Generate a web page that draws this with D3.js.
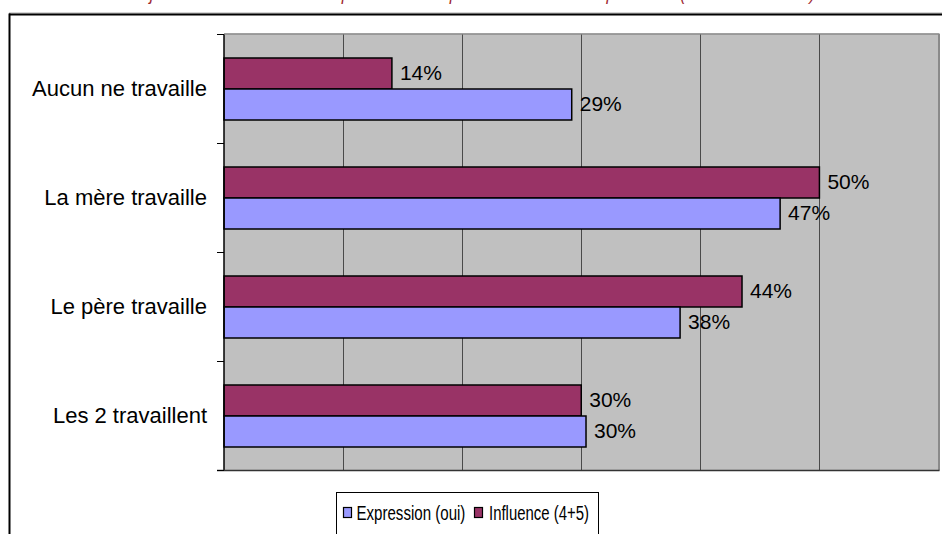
<!DOCTYPE html>
<html><head><meta charset="utf-8">
<script src="https://cdn.jsdelivr.net/npm/d3@7"></script>
<style>body{margin:0;background:#fff}svg{display:block}</style>
</head><body><svg width="942" height="534"></svg>
<script>
const categories = ["Aucun ne travaille", "La mère travaille", "Le père travaille", "Les 2 travaillent"];
const influence = [14.1, 50, 43.5, 30];
const expression = [29.2, 46.7, 38.3, 30.4];
const seriesNames = ["Expression (oui)", "Influence (4+5)"];
const seriesColors = ["#9999FF", "#993366"];
const xTicks = [0, 10, 20, 30, 40, 50, 60];
const titleText = "jeune dans le choix de sa profession : expression et influence parentale (selon la situation)";

const svg = d3.select("svg");
const font = "'Liberation Sans', Arial, sans-serif";

// outer frame
svg.append("line").attr("x1", 9).attr("x2", 942).attr("y1", 13).attr("y2", 13).attr("stroke", "#aaa").attr("stroke-width", 1);
svg.append("line").attr("x1", 9).attr("x2", 942).attr("y1", 14.5).attr("y2", 14.5).attr("stroke", "#000").attr("stroke-width", 2);
svg.append("line").attr("x1", 9.5).attr("x2", 9.5).attr("y1", 13.5).attr("y2", 534).attr("stroke", "#000").attr("stroke-width", 2);

// title (cut off at the top edge, as in the reference)
svg.append("text").attr("x", 150).attr("y", -0.5).attr("textLength", 665).attr("lengthAdjust", "spacingAndGlyphs")
  .attr("font-family", font).attr("font-style", "italic").attr("font-size", 18).attr("fill", "#A02830").text(titleText);

const x = d3.scaleLinear().domain([0, 60]).range([224, 938.5]);
const y = d3.scaleBand().domain(categories).range([34.5, 470.5]);
const sub = d3.scaleBand().domain(["influence", "expression"]).range([0, y.bandwidth()]).paddingInner(0).paddingOuter(0.758);

// plot area
svg.append("rect").attr("x", x(0)).attr("y", 34.5).attr("width", x(60) - x(0)).attr("height", 436).attr("fill", "#C0C0C0");
svg.append("line").attr("x1", x(0)).attr("x2", x(60) + 1).attr("y1", 34).attr("y2", 34).attr("stroke", "#808080").attr("stroke-width", 1.5);
svg.append("line").attr("x1", x(60) + 0.5).attr("x2", x(60) + 0.5).attr("y1", 34).attr("y2", 470.5).attr("stroke", "#8a8a8a").attr("stroke-width", 2);

// gridlines
svg.append("g").selectAll("line").data(xTicks.filter(d => d > 0 && d < 60)).join("line")
  .attr("x1", d => Math.round(x(d)) + 0.5).attr("x2", d => Math.round(x(d)) + 0.5)
  .attr("y1", 34.5).attr("y2", 470.5).attr("stroke", "#4a4a4a").attr("stroke-width", 1);

// bars
const rows = categories.map((c, i) => ({c, influence: influence[i], expression: expression[i]}));
const g = svg.append("g");
rows.forEach(r => {
  [["influence", seriesColors[1]], ["expression", seriesColors[0]]].forEach(([k, col]) => {
    const y0 = y(r.c) + sub(k);
    g.append("rect").attr("x", x(0)).attr("y", y0).attr("width", x(r[k]) - x(0)).attr("height", sub.bandwidth())
      .attr("fill", col).attr("stroke", "#000").attr("stroke-width", 1.5);
    g.append("text").attr("x", x(r[k]) + 8).attr("y", y0 + sub.bandwidth() / 2).attr("dy", "0.33em")
      .attr("font-family", font).attr("font-size", 21).attr("fill", "#000")
      .text(Math.round(r[k]) + "%");
  });
});

// axes
svg.append("line").attr("x1", 224).attr("x2", 224).attr("y1", 34.5).attr("y2", 470.5).attr("stroke", "#000").attr("stroke-width", 1.5);
svg.append("line").attr("x1", 217).attr("x2", x(60) + 1).attr("y1", 470.5).attr("y2", 470.5).attr("stroke", "#333").attr("stroke-width", 1.5);
const edges = categories.map(c => y(c)).concat([y.range()[1]]);
svg.append("g").selectAll("line").data(edges).join("line")
  .attr("x1", 217).attr("x2", 224).attr("y1", d => d).attr("y2", d => d).attr("stroke", "#000").attr("stroke-width", 1);
svg.append("g").selectAll("text").data(categories).join("text")
  .attr("x", 207).attr("y", d => y(d) + y.bandwidth() / 2).attr("dy", "0.33em").attr("text-anchor", "end")
  .attr("font-family", font).attr("font-size", 22).attr("fill", "#000").text(d => d);

// legend
const lg = svg.append("g");
lg.append("rect").attr("x", 336.5).attr("y", 492.5).attr("width", 262).attr("height", 50).attr("fill", "#fff").attr("stroke", "#000").attr("stroke-width", 1);
const legendItems = [
  {name: seriesNames[0], color: seriesColors[0], mx: 343, tx: 356.5, w: 109},
  {name: seriesNames[1], color: seriesColors[1], mx: 474, tx: 489, w: 100}
];
legendItems.forEach(it => {
  lg.append("rect").attr("x", it.mx + 0.5).attr("y", 507.5).attr("width", 8).attr("height", 10).attr("fill", it.color).attr("stroke", "#000").attr("stroke-width", 1.2);
  const tg = lg.append("g").attr("transform", `translate(${it.tx},520)`);
  const t = tg.append("text").attr("x", 0).attr("y", 0)
    .attr("font-family", font).attr("font-size", 21).attr("fill", "#000").text(it.name);
  const natural = t.node().getComputedTextLength();
  tg.attr("transform", `translate(${it.tx},520) scale(${it.w / natural},1)`);
});
</script>
</body></html>
